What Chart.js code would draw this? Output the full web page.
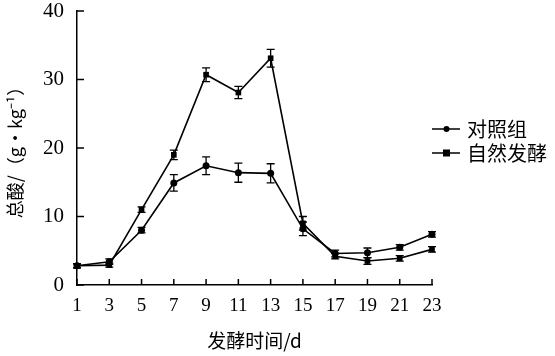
<!DOCTYPE html>
<html lang="zh">
<head>
    <meta charset="UTF-8">
    <title>总酸变化</title>
    <style>
        body { margin: 0; background: #fff; }
        #wrap { width: 555px; height: 356px; }
    </style>
</head>
<body>
<div id="wrap"><canvas id="chart" width="555" height="356"></canvas></div>

<script src="https://cdn.jsdelivr.net/npm/chart.js"></script>
<script>
    const days = ['1', '3', '5', '7', '9', '11', '13', '15', '17', '19', '21', '23'];
    const controlValues = [2.8, 3.4, 8.0, 14.9, 17.4, 16.4, 16.3, 8.2, 4.6, 4.7, 5.5, 7.4];
    const controlErrors = [0.3, 0.4, 0.4, 1.2, 1.3, 1.4, 1.4, 1.0, 0.5, 0.7, 0.4, 0.4];
    const naturalValues = [2.8, 2.9, 11.0, 19.0, 30.7, 28.1, 33.1, 9.0, 4.2, 3.5, 3.9, 5.2];
    const naturalErrors = [0.3, 0.3, 0.4, 0.7, 1.0, 0.9, 1.3, 1.0, 0.4, 0.5, 0.4, 0.4];
    const yTicks = [0, 10, 20, 30, 40];

    const serif = '"Liberation Serif", "Noto Sans CJK SC", serif';
    const cjk = '"Noto Sans CJK SC", "Liberation Serif", sans-serif';

    // error bars + inward tick marks + legend
    const extras = {
        id: 'extras',
        afterDatasetsDraw(chart) {
            const ctx = chart.ctx;
            const y = chart.scales.y;
            const x = chart.scales.x;
            ctx.save();
            ctx.strokeStyle = '#000';
            ctx.lineWidth = 1.3;
            chart.data.datasets.forEach((ds, di) => {
                const meta = chart.getDatasetMeta(di);
                ds.errors.forEach((e, i) => {
                    const px = meta.data[i].x;
                    const top = y.getPixelForValue(ds.data[i] + e);
                    const bot = y.getPixelForValue(ds.data[i] - e);
                    ctx.beginPath();
                    ctx.moveTo(px, top); ctx.lineTo(px, bot);
                    ctx.moveTo(px - 4, top); ctx.lineTo(px + 4, top);
                    ctx.moveTo(px - 4, bot); ctx.lineTo(px + 4, bot);
                    ctx.stroke();
                });
            });

            // ticks pointing into the plot
            ctx.lineWidth = 1.5;
            ctx.beginPath();
            yTicks.forEach(v => {
                const py = y.getPixelForValue(v);
                ctx.moveTo(x.left, py); ctx.lineTo(x.left + 7, py);
            });
            days.forEach((d, i) => {
                const px = x.getPixelForValue(i);
                ctx.moveTo(px, y.bottom); ctx.lineTo(px, y.bottom - 6);
            });
            ctx.stroke();

            // legend
            const rows = [[chart.data.datasets[0], 129], [chart.data.datasets[1], 153]];
            rows.forEach(([ds, ly]) => {
                ctx.lineWidth = 1.5;
                ctx.beginPath();
                ctx.moveTo(432, ly); ctx.lineTo(460, ly);
                ctx.stroke();
                ctx.fillStyle = '#000';
                if (ds.pointStyle === 'rect') {
                    ctx.fillRect(443, ly - 3.5, 7, 7);
                } else {
                    ctx.beginPath();
                    ctx.arc(446.5, ly, 3, 0, Math.PI * 2);
                    ctx.fill();
                }
                ctx.font = '20px ' + cjk;
                ctx.textBaseline = 'middle';
                ctx.textAlign = 'left';
                ctx.fillText(ds.label, 467, ly);
            });
            ctx.restore();
        }
    };

    new Chart(document.getElementById('chart'), {
        type: 'line',
        data: {
            labels: days,
            datasets: [
                {
                    label: '对照组',
                    data: controlValues,
                    errors: controlErrors,
                    borderColor: '#000',
                    backgroundColor: '#000',
                    borderWidth: 1.6,
                    pointStyle: 'circle',
                    pointRadius: 3.5,
                    pointBorderWidth: 0,
                    tension: 0
                },
                {
                    label: '自然发酵',
                    data: naturalValues,
                    errors: naturalErrors,
                    borderColor: '#000',
                    backgroundColor: '#000',
                    borderWidth: 1.6,
                    pointStyle: 'rect',
                    pointRadius: 4,
                    pointBorderWidth: 0,
                    tension: 0
                }
            ]
        },
        options: {
            responsive: false,
            animation: false,
            events: [],
            layout: { padding: { top: 11, right: 123, left: 0, bottom: 0 } },
            plugins: {
                legend: { display: false },
                tooltip: { enabled: false }
            },
            scales: {
                x: {
                    offset: false,
                    grid: { display: false },
                    border: { display: true, color: '#000', width: 1.5 },
                    ticks: {
                        color: '#000',
                        font: { family: serif, size: 19 },
                        padding: 2,
                        maxRotation: 0,
                        autoSkip: false
                    },
                    title: {
                        display: true,
                        text: '发酵时间/d',
                        color: '#000',
                        font: { family: cjk, size: 19 },
                        padding: { top: 6 }
                    },
                    afterFit: s => { s.height = 71; s.paddingLeft = 0; s.paddingRight = 0; }
                },
                y: {
                    min: 0,
                    max: 40,
                    grid: { display: false },
                    border: { display: true, color: '#000', width: 1.5 },
                    afterBuildTicks: s => { s.ticks = yTicks.map(v => ({ value: v })); },
                    ticks: {
                        color: '#000',
                        font: { family: serif, size: 21 },
                        padding: 5
                    },
                    title: {
                        display: true,
                        text: '总酸/（g•kg⁻¹）',
                        color: '#000',
                        font: { family: cjk, size: 18 },
                        padding: { bottom: 2 }
                    },
                    afterFit: s => { s.width = 77; s.paddingTop = 0; s.paddingBottom = 0; }
                }
            }
        },
        plugins: [extras]
    });
</script>
</body>
</html>
